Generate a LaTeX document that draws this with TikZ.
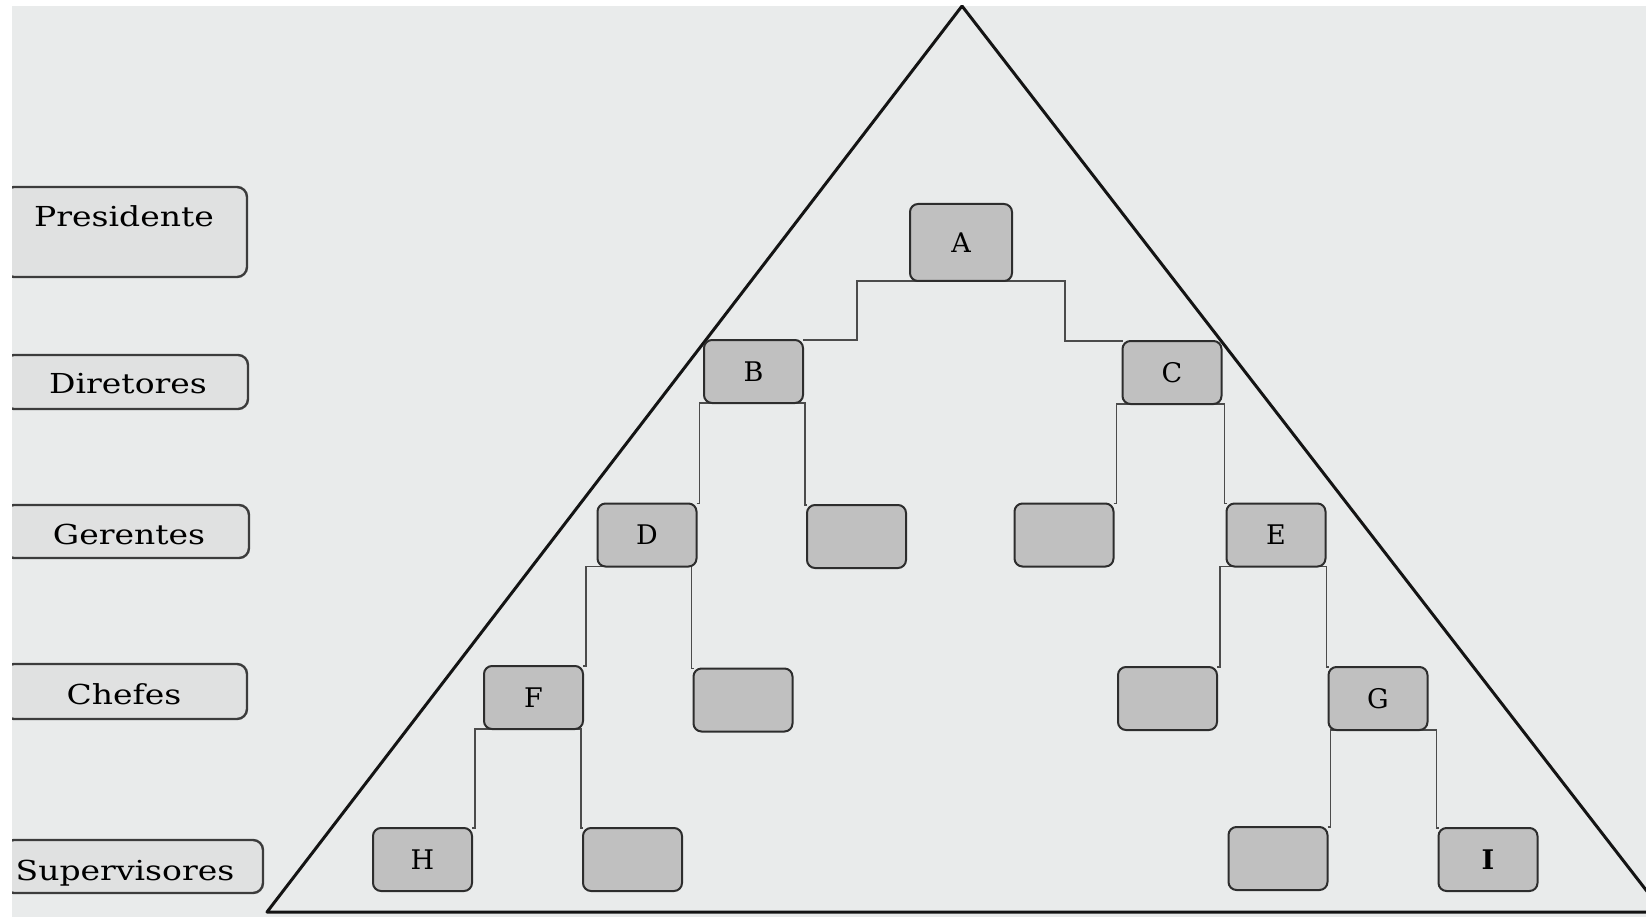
\documentclass[tikz,border=0pt]{standalone}
\usepackage{fontspec}
\setmainfont{DejaVu Serif}
\newfontfamily\lblfont{DejaVu Serif}[FakeStretch=1.2]
\usetikzlibrary{calc}
\pgfdeclarelayer{bottom}
\pgfdeclarelayer{mid}
\pgfsetlayers{bottom,mid,main}
\definecolor{bgc}{RGB}{233,235,235}
\definecolor{nodefill}{RGB}{192,192,192}
\definecolor{lblfill}{RGB}{224,225,225}
\definecolor{edgec}{RGB}{45,45,45}
\definecolor{lbledge}{RGB}{60,60,60}
\definecolor{linkc}{RGB}{75,75,75}
\definecolor{tric}{RGB}{20,20,20}
\tikzset{
  box/.style={draw=edgec,line width=2pt,fill=nodefill,rounded corners=8pt,
    minimum width=99pt,minimum height=63pt,inner sep=0pt,outer sep=0pt,
    font=\fontsize{27}{32}\selectfont},
  lblbox/.style={draw=lbledge,line width=2.4pt,fill=lblfill,rounded corners=10pt,
    inner sep=0pt,outer sep=0pt},
  lbltext/.style={anchor=base,inner sep=0pt,font=\lblfont\fontsize{27.5}{33}\selectfont},
  link/.style={draw=linkc,line width=1.5pt},
  tri/.style={draw=tric,line width=3pt,line join=round}
}
\begin{document}
\begin{tikzpicture}[x=1pt,y=-1pt]
\useasboundingbox (0,0) rectangle (1646,917);
\begin{pgfonlayer}{bottom}
\fill[white] (0,0) rectangle (1646,917);
\fill[bgc] (12,6) rectangle (1646,917);
\begin{scope}
\clip (12,6) rectangle (1646,917);
% pyramid
\coordinate (apex) at (962,6);
\coordinate (bl) at (267,912);
\coordinate (br) at (1663,912);
\draw[tri] (apex) -- (bl) -- (br) -- cycle;
\end{scope}
\end{pgfonlayer}

\begin{scope}
\clip (12,6) rectangle (1646,917);
% level labels
\node[lblbox,minimum width=243pt,minimum height=90pt] (presBox) at (125.5,232) {};
\node[lbltext] (presTxt) at (124,227) {Presidente};
\node[lblbox,minimum width=244pt,minimum height=54pt] (dirBox) at (126,382) {};
\node[lbltext] (dirTxt) at (128,393) {Diretores};
\node[lblbox,minimum width=245pt,minimum height=53pt] (gerBox) at (126.5,531.5) {};
\node[lbltext] (gerTxt) at (129,544) {Gerentes};
\node[lblbox,minimum width=243pt,minimum height=55pt] (cheBox) at (125.5,691.5) {};
\node[lbltext] (cheTxt) at (124,704) {Chefes};
\node[lblbox,minimum width=259pt,minimum height=53pt] (supBox) at (133.5,866.5) {};
\node[lbltext] (supTxt) at (125,880) {Supervisores};
\end{scope}

% connector coordinates for A
\coordinate (aL) at (857,281);
\coordinate (aR) at (1065,281);

% nodes
\node[box,minimum width=102pt,minimum height=77pt] (A) at (961,242.5) {A};
\node[box] (B) at (753.5,371.5) {B};
\node[box] (C) at (1172,372.5) {C};
\node[box] (D) at (647,535) {D};
\node[box] (Bb) at (856.5,536.5) {};
\node[box] (Cb) at (1064,535) {};
\node[box] (E) at (1276,535) {E};
\node[box] (F) at (533.5,697.5) {F};
\node[box] (Db) at (743,700) {};
\node[box] (Eb) at (1167.5,698.5) {};
\node[box] (G) at (1378,698.5) {G};
\node[box] (H) at (422.5,859.5) {H};
\node[box] (Fb) at (632.5,859.5) {};
\node[box] (Gb) at (1278,858.5) {};
\node[box,font=\fontsize{27}{32}\selectfont\bfseries] (I) at (1488,859.5) {I};

% connectors (behind nodes)
\begin{pgfonlayer}{mid}
\draw[link] (B.north east) -| (aL) -- (aR) |- (C.north west);
\draw[link] (D.north east) -| ($(D.north east |- B.south)+(3,0)$) -- ($(Bb.north west |- B.south)+(-2,0)$) |- (Bb.north west);
\draw[link] (Cb.north east) -| ($(Cb.north east |- C.south)+(3,0)$) -- ($(E.north west |- C.south)+(-2,0)$) |- (E.north west);
\draw[link] (F.north east) -| ($(F.north east |- D.south)+(3,0)$) -- ($(Db.north west |- D.south)+(-2,0)$) |- (Db.north west);
\draw[link] (Eb.north east) -| ($(Eb.north east |- E.south)+(3,0)$) -- ($(G.north west |- E.south)+(-2,0)$) |- (G.north west);
\draw[link] (H.north east) -| ($(H.north east |- F.south)+(3,0)$) -- ($(Fb.north west |- F.south)+(-2,0)$) |- (Fb.north west);
\draw[link] (Gb.north east) -| ($(Gb.north east |- G.south)+(3,0)$) -- ($(I.north west |- G.south)+(-2,0)$) |- (I.north west);
\end{pgfonlayer}
\end{tikzpicture}
\end{document}
